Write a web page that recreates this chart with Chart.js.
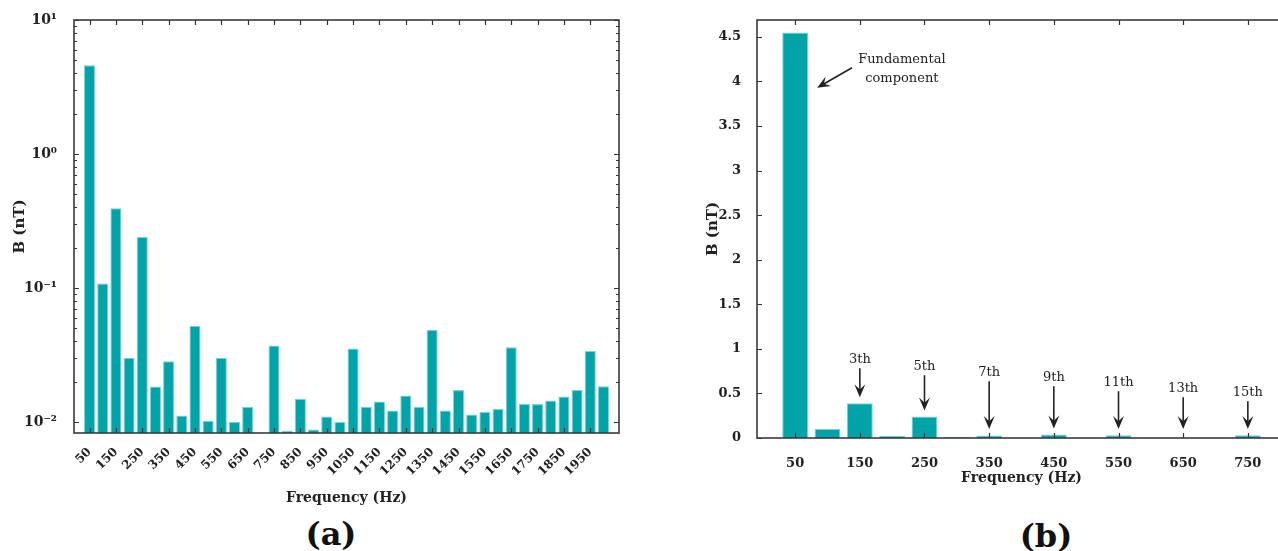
<!DOCTYPE html>
<html>
<head>
<meta charset="utf-8">
<script src="https://cdn.jsdelivr.net/npm/chart.js@4/dist/chart.umd.min.js"></script>
<style>
  html, body { margin: 0; padding: 0; background: #fff; }
  body { width: 1278px; height: 551px; overflow: hidden; position: relative; font-family: "DejaVu Serif", serif; }
  .panel { position: absolute; top: 0; }
  .tag { position: absolute; font: bold 32px "DejaVu Serif", serif; color: #111; transform: translate(-50%, -50%); }
</style>
</head>
<body>
<div class="panel" style="left:0;width:640px;height:512px"><canvas id="chartA"></canvas></div>
<div class="panel" style="left:680px;width:616px;height:500px"><canvas id="chartB"></canvas></div>
<div class="tag" style="left:331px;top:534px">(a)</div>
<div class="tag" style="left:1046px;top:536px">(b)</div>
<script>
// (a) full spectrum, log scale
var freqA = [50, 100, 150, 200, 250, 300, 350, 400, 450, 500,
             550, 600, 650, 700, 750, 800, 850, 900, 950, 1000,
             1050, 1100, 1150, 1200, 1250, 1300, 1350, 1400, 1450, 1500,
             1550, 1600, 1650, 1700, 1750, 1800, 1850, 1900, 1950, 2000];
var bA = [4.6, 0.108, 0.393, 0.0302, 0.240, 0.0184, 0.0284, 0.0112, 0.052, 0.0102,
          0.0302, 0.0100, 0.0130, null, 0.0373, 0.0086, 0.0149, 0.0088, 0.0110, 0.0100,
          0.0353, 0.0130, 0.0142, 0.0122, 0.0158, 0.0130, 0.0486, 0.0122, 0.0173, 0.0114,
          0.0119, 0.0125, 0.0361, 0.0136, 0.0136, 0.0145, 0.0155, 0.0173, 0.0339, 0.0185];
var xTicksA = [50, 150, 250, 350, 450, 550, 650, 750, 850, 950,
               1050, 1150, 1250, 1350, 1450, 1550, 1650, 1750, 1850, 1950];
var yDecadesA = [0.01, 0.1, 1, 10];
var yLabelsA = ['10⁻²', '10⁻¹', '10⁰', '10¹'];

// (b) first harmonics, linear scale
var freqB = [50, 100, 150, 200, 250, 300, 350, 400, 450, 500, 550, 600, 650, 700, 750];
var bB = [4.55, 0.10, 0.39, 0.025, 0.24, 0.01, 0.028, 0, 0.04, 0, 0.03, 0, 0, 0, 0.03];
var xTicksB = [50, 150, 250, 350, 450, 550, 650, 750];
var yTicksB = [0, 0.5, 1, 1.5, 2, 2.5, 3, 3.5, 4, 4.5];
var harmonicFreqs = [150, 250, 350, 450, 550, 650, 750];
var harmonicNames = ['3th', '5th', '7th', '9th', '11th', '13th', '15th'];

var TEAL = '#00a4a8';
var INK = '#222';
var bold13 = { family: '"DejaVu Serif", serif', size: 13, weight: 'bold' };
var titleFont = { family: '"DejaVu Serif", serif', size: 14, weight: 'bold' };

// box around the plot with inward ticks on all sides
var frame = {
  id: 'frame',
  afterDatasetsDraw: function (chart) {
    var ctx = chart.ctx, a = chart.chartArea, x = chart.scales.x, y = chart.scales.y;
    ctx.save();
    ctx.strokeStyle = '#333';
    ctx.lineWidth = 1.2;
    ctx.beginPath();
    x.ticks.forEach(function (t) {
      var px = Math.round(x.getPixelForValue(t.value)) + 0.5;
      ctx.moveTo(px, a.bottom); ctx.lineTo(px, a.bottom - 5);
      ctx.moveTo(px, a.top); ctx.lineTo(px, a.top + 5);
    });
    y.ticks.forEach(function (t) {
      var py = Math.round(y.getPixelForValue(t.value)) + 0.5;
      var len = t.major === false ? 3 : 5;
      ctx.moveTo(a.left, py); ctx.lineTo(a.left + len, py);
      ctx.moveTo(a.right, py); ctx.lineTo(a.right - len, py);
    });
    ctx.stroke();
    ctx.lineWidth = 1.6;
    ctx.strokeStyle = '#3a3a3a';
    ctx.strokeRect(a.left, a.top, a.right - a.left, a.bottom - a.top);
    ctx.restore();
  }
};

function arrow(ctx, x0, y0, x1, y1) {
  var ang = Math.atan2(y1 - y0, x1 - x0);
  var L = 13, W = 5.5;
  ctx.beginPath();
  ctx.moveTo(x0, y0);
  ctx.lineTo(x1 - Math.cos(ang) * 7, y1 - Math.sin(ang) * 7);
  ctx.stroke();
  ctx.save();
  ctx.translate(x1, y1);
  ctx.rotate(ang);
  ctx.beginPath();
  ctx.moveTo(0, 0);
  ctx.lineTo(-L, -W);
  ctx.lineTo(-L * 0.6, 0);
  ctx.lineTo(-L, W);
  ctx.closePath();
  ctx.fill();
  ctx.restore();
}

// text labels and arrows of panel (b)
var notes = {
  id: 'notes',
  afterDatasetsDraw: function (chart, args, opts) {
    var ctx = chart.ctx, x = chart.scales.x, y = chart.scales.y;
    ctx.save();
    ctx.fillStyle = INK;
    ctx.strokeStyle = INK;
    ctx.lineWidth = 1.6;
    ctx.font = '13px "DejaVu Serif", serif';
    ctx.textAlign = 'center';
    ctx.textBaseline = 'middle';
    var f = opts.fundamental;
    ctx.fillText('Fundamental', x.getPixelForValue(f.text[0]), y.getPixelForValue(f.text[1]));
    ctx.fillText('component', x.getPixelForValue(f.text[0]), y.getPixelForValue(f.text[2]));
    arrow(ctx, x.getPixelForValue(f.from[0]), y.getPixelForValue(f.from[1]),
               x.getPixelForValue(f.to[0]), y.getPixelForValue(f.to[1]));
    var base = y.getPixelForValue(0);
    harmonicFreqs.forEach(function (fr, i) {
      var px = x.getPixelForValue(fr);
      var ty = y.getPixelForValue(opts.labelAt[i]);
      var val = bB[freqB.indexOf(fr)];
      var tip = Math.min(y.getPixelForValue(val) - 6, base - 9);
      ctx.fillText(harmonicNames[i], px, ty);
      arrow(ctx, px, ty + 9, px, tip);
    });
    ctx.restore();
  }
};

new Chart(document.getElementById('chartA'), {
  type: 'bar',
  data: {
    datasets: [{
      data: freqA.map(function (f, i) { return { x: f, y: bA[i] }; }),
      backgroundColor: TEAL,
      borderColor: '#7fd0d2',
      borderWidth: 1,
      borderSkipped: 'bottom',
      barPercentage: 0.84,
      categoryPercentage: 1
    }]
  },
  options: {
    responsive: true,
    maintainAspectRatio: false,
    animation: false,
    layout: { padding: { top: 20, right: 21, left: 0, bottom: 0 } },
    plugins: { legend: { display: false }, tooltip: { enabled: false } },
    scales: {
      x: {
        type: 'linear',
        min: -9, max: 2059,
        offset: false,
        grid: { display: false, offset: false },
        border: { display: false },
        afterBuildTicks: function (s) { s.ticks = xTicksA.map(function (v) { return { value: v }; }); },
        afterFit: function (s) { s.height = 79; },
        ticks: {
          autoSkip: false, minRotation: 45, maxRotation: 45, padding: 4,
          color: INK, font: { family: '"DejaVu Serif", serif', size: 12, weight: 'bold' },
          callback: function (v) { return String(v); }
        },
        title: { display: true, text: 'Frequency (Hz)', color: INK, font: titleFont, padding: { top: 0, bottom: 5 } }
      },
      y: {
        type: 'logarithmic',
        min: 0.00828, max: 10,
        grid: { display: false },
        border: { display: false },
        afterBuildTicks: function (s) {
          var t = [];
          yDecadesA.forEach(function (d) {
            for (var k = 1; k <= 9; k++) {
              var v = d * k;
              if (v >= s.min && v <= s.max) t.push({ value: v, major: k === 1 });
            }
          });
          s.ticks = t;
        },
        afterFit: function (s) { s.width = 74; },
        ticks: {
          autoSkip: false, padding: 9, color: INK, font: { family: '"DejaVu Serif", serif', size: 14, weight: 'bold' },
          callback: function (v) {
            var i = yDecadesA.findIndex(function (d) { return Math.abs(d - v) < d * 1e-6; });
            return i >= 0 ? yLabelsA[i] : '';
          }
        },
        title: { display: true, text: 'B (nT)', color: INK, font: { family: '"DejaVu Serif", serif', size: 15, weight: 'bold' }, padding: { top: 11, bottom: 0 } }
      }
    }
  },
  plugins: [frame]
});

new Chart(document.getElementById('chartB'), {
  type: 'bar',
  data: {
    datasets: [{
      data: freqB.map(function (f, i) { return { x: f, y: bB[i] }; }),
      backgroundColor: TEAL,
      borderColor: '#7fd0d2',
      borderWidth: 1,
      borderSkipped: 'bottom',
      barPercentage: 0.8,
      categoryPercentage: 1
    }]
  },
  options: {
    responsive: true,
    maintainAspectRatio: false,
    animation: false,
    layout: { padding: { top: 20, right: 10, left: 0, bottom: 0 } },
    plugins: {
      legend: { display: false }, tooltip: { enabled: false },
      notes: {
        fundamental: { text: [215, 4.245, 4.03], from: [138, 4.155], to: [84, 3.93] },
        labelAt: [0.884, 0.806, 0.738, 0.682, 0.626, 0.558, 0.513]
      }
    },
    scales: {
      x: {
        type: 'linear',
        min: -9, max: 809,
        offset: false,
        grid: { display: false, offset: false },
        border: { display: false },
        afterBuildTicks: function (s) { s.ticks = xTicksB.map(function (v) { return { value: v }; }); },
        afterFit: function (s) { s.height = 62; },
        ticks: {
          autoSkip: false, maxRotation: 0, minRotation: 0, padding: 10,
          color: INK, font: bold13,
          callback: function (v) { return String(v); }
        },
        title: { display: true, text: 'Frequency (Hz)', color: INK, font: titleFont, padding: { top: 0, bottom: 13 } }
      },
      y: {
        min: 0, max: 4.69,
        grid: { display: false },
        border: { display: false },
        afterBuildTicks: function (s) { s.ticks = yTicksB.map(function (v) { return { value: v }; }); },
        afterFit: function (s) { s.width = 77; },
        ticks: {
          autoSkip: false, padding: 8, color: INK, font: bold13,
          callback: function (v) { return String(v); }
        },
        title: { display: true, text: 'B (nT)', color: INK, font: { family: '"DejaVu Serif", serif', size: 15, weight: 'bold' }, padding: { top: 24, bottom: 0 } }
      }
    }
  },
  plugins: [frame, notes]
});
</script>
</body>
</html>
